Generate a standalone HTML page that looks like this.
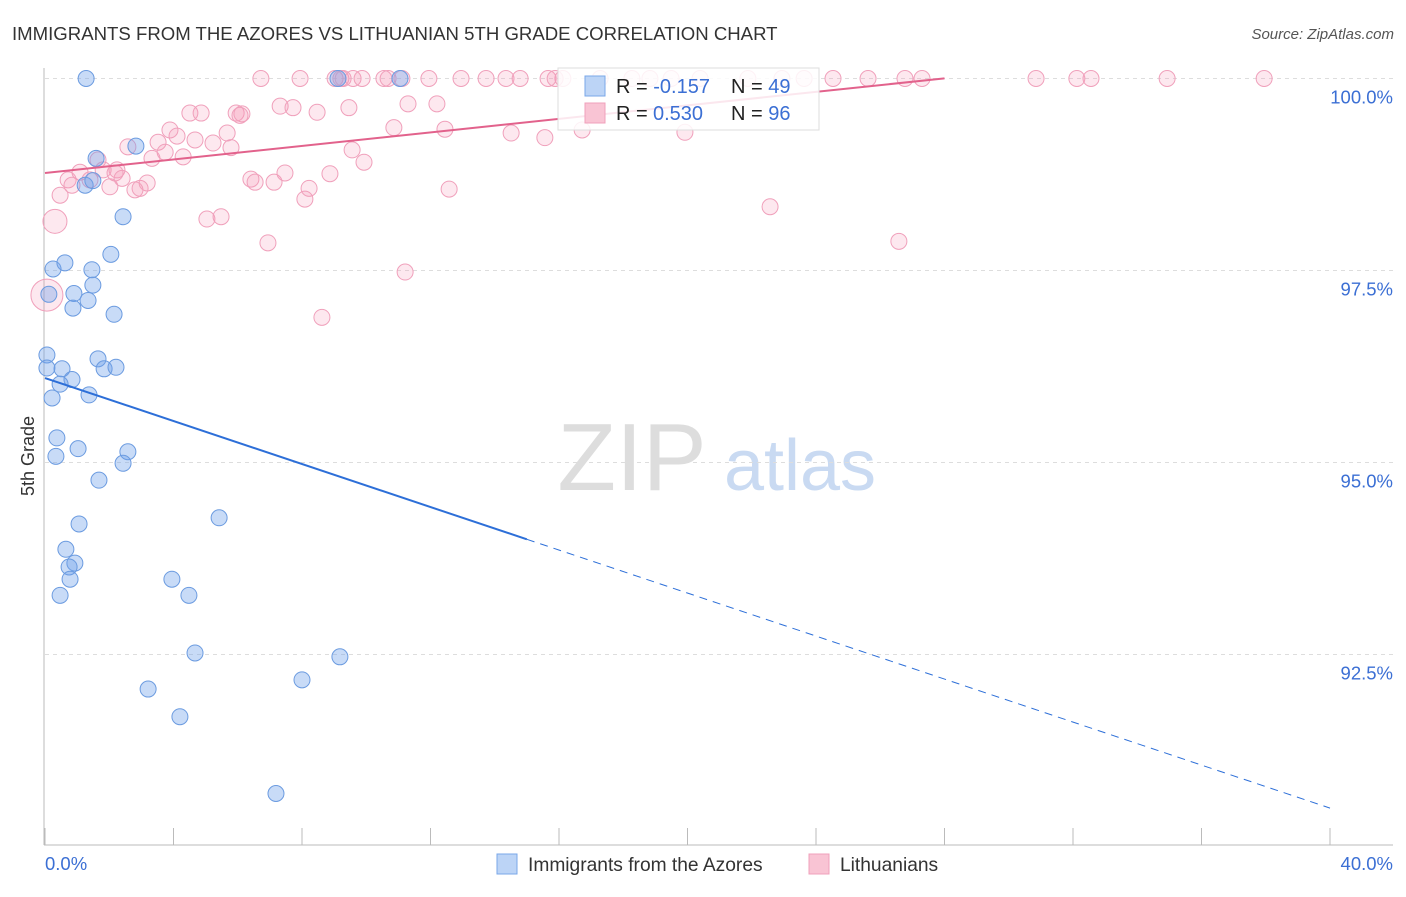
<!DOCTYPE html>
<html><head><meta charset="utf-8"><style>
body{margin:0;background:#fff;font-family:"Liberation Sans",sans-serif;}
svg text{font-family:"Liberation Sans",sans-serif;}
</style></head><body>
<svg id="chart" width="1406" height="892" xmlns="http://www.w3.org/2000/svg">
<text x="12" y="40" font-size="18.6" fill="#333">IMMIGRANTS FROM THE AZORES VS LITHUANIAN 5TH GRADE CORRELATION CHART</text>
<text x="1394" y="39" font-size="15" fill="#555" font-style="italic" text-anchor="end">Source: ZipAtlas.com</text>
<g>
<text x="632" y="490" font-size="96" fill="#ddd" font-family="Liberation Serif" text-anchor="middle">ZIP</text>
<text x="800" y="490" font-size="72" fill="#c9daf2" text-anchor="middle">atlas</text>
</g>
<g id="grid"></g>
<g id="axes"></g>
<g id="marks"></g>
<text x="34" y="456" font-size="18" fill="#333" transform="rotate(-90 34 456)" text-anchor="middle">5th Grade</text>
<text x="45" y="870" font-size="18.5" fill="#3b6fd4">0.0%</text>
<text x="1393" y="870" font-size="18.5" fill="#3b6fd4" text-anchor="end">40.0%</text>
<g>
<rect x="558" y="68" width="261" height="62" fill="#fff" fill-opacity="0.85" stroke="#ddd"/>
<rect x="585" y="76" width="20" height="20" fill="#bcd4f6" stroke="#7aa7e8"/>
<rect x="585" y="103" width="20" height="20" fill="#f9c4d4" stroke="#f0a0bb"/>
<text x="616" y="93" font-size="20" fill="#222">R = <tspan fill="#3b6fd4">-0.157</tspan><tspan x="731">N = </tspan><tspan fill="#3b6fd4">49</tspan></text>
<text x="616" y="120" font-size="20" fill="#222">R = <tspan x="653" fill="#3b6fd4">0.530</tspan><tspan x="731">N = </tspan><tspan fill="#3b6fd4">96</tspan></text>
</g>
<g>
<rect x="497" y="854" width="20" height="20" fill="#bcd4f6" stroke="#7aa7e8"/>
<text x="528" y="871" font-size="19.2" fill="#333">Immigrants from the Azores</text>
<rect x="809" y="854" width="20" height="20" fill="#f9c4d4" stroke="#f0a0bb"/>
<text x="840" y="871" font-size="19.2" fill="#333">Lithuanians</text>
</g>
</svg>
<script>
const yTicks=[100,97.5,95,92.5];
const yTickLabels=["100.0%","97.5%","95.0%","92.5%"];
const xTicks=[0,4,8,12,16,20,24,28,32,36,40];
const blueX=[1.28,9.12,11.05,1.59,2.83,1.25,1.49,2.43,2.05,0.25,0.62,1.46,0.12,0.90,1.34,0.87,1.49,2.15,0.06,0.06,0.53,1.65,1.84,2.21,0.84,0.47,1.37,0.22,0.37,1.03,2.58,0.34,2.43,1.68,1.06,5.42,0.65,0.93,0.75,0.78,0.47,3.95,4.48,4.67,9.18,3.21,8.00,4.20,7.19];
const blueY=[100,100,100,98.96,99.12,98.61,98.67,98.20,97.71,97.52,97.60,97.51,97.19,97.20,97.11,97.01,97.31,96.93,96.40,96.23,96.22,96.35,96.22,96.24,96.08,96.02,95.88,95.84,95.32,95.18,95.14,95.08,94.99,94.77,94.20,94.28,93.87,93.69,93.64,93.48,93.27,93.48,93.27,92.52,92.47,92.05,92.17,91.69,90.69];
const pinkX=[6.72,7.94,9.03,9.21,9.28,9.59,9.87,10.55,10.68,11.11,11.95,12.95,13.73,14.35,14.79,15.66,15.88,16.12,17.28,18.27,18.83,19.49,20.39,21.88,22.94,23.63,24.53,25.62,26.77,27.30,30.85,32.12,32.56,34.93,37.95,
0.31,0.06,0.47,0.72,0.84,1.09,1.40,1.65,1.81,2.02,2.24,2.40,2.58,2.80,2.96,3.18,3.33,3.52,3.74,3.89,4.11,4.30,4.51,4.67,4.86,5.04,5.23,5.48,5.67,5.79,5.95,6.13,6.41,6.54,6.94,7.13,7.32,7.47,7.72,8.09,8.22,8.47,8.62,8.87,9.46,9.56,9.93,10.86,11.21,11.30,12.20,12.45,12.58,14.51,15.56,16.72,19.92,22.57,26.58,2.18,6.07];
const pinkY=[100,100,100,100,100,100,100,100,100,100,100,100,100,100,100,100,100,100,100,100,100,100,100,100,100,100,100,100,100,100,100,100,100,100,100,
98.14,97.18,98.48,98.68,98.61,98.78,98.68,98.94,98.81,98.59,98.81,98.70,99.11,98.55,98.57,98.64,98.96,99.17,99.04,99.33,99.25,98.98,99.55,99.20,99.55,98.17,99.16,98.20,99.29,99.10,99.55,99.54,98.69,98.65,97.86,98.65,99.64,98.77,99.62,98.43,98.57,99.56,96.89,98.76,99.62,99.07,98.91,99.36,97.48,99.67,99.67,99.34,98.56,99.29,99.23,99.33,99.30,98.33,97.88,98.77,99.52];
const pinkSize=[];pinkSize[35]=12;pinkSize[36]=16;
const blueTrend=[96.10,-0.14];
const pinkTrend=[98.77,0.044];
const NS="http://www.w3.org/2000/svg";
const sx=v=>45+v*32.125, sy=v=>78.5+(100-v)*76.8;
function mk(t,a,p){const e=document.createElementNS(NS,t);for(const k in a)e.setAttribute(k,a[k]);document.getElementById(p).appendChild(e);return e;}
yTicks.forEach((t,i)=>{
 const l=mk('line',{x1:45,x2:1393,y1:sy(t),y2:sy(t),stroke:'#ddd','stroke-dasharray':'4 4'},'grid');
 
 
 const tx=mk('text',{x:1393,y:sy(t)+25,'font-size':18.5,fill:'#3b6fd4','text-anchor':'end'},'grid');
 tx.textContent=yTickLabels[i];
 
 
});
const ya=mk('line',{x1:44,x2:44,y1:68,y2:845,stroke:'#bbb'},'axes');


const xa=mk('line',{x1:44,x2:1393,y1:845,y2:845,stroke:'#bbb'},'axes');


xTicks.forEach(t=>{const l=mk('line',{x1:sx(t),x2:sx(t),y1:828,y2:845,stroke:'#bbb'},'axes');
 
 });
pinkX.forEach((x,i)=>{const c=mk('circle',{cx:sx(x),cy:sy(pinkY[i]),r:pinkSize[i]||8,fill:'rgba(244,150,180,0.22)',stroke:'#f0a0bb','stroke-width':1},'marks');
 
 });
blueX.forEach((x,i)=>{const c=mk('circle',{cx:sx(x),cy:sy(blueY[i]),r:8,fill:'rgba(110,160,235,0.38)',stroke:'#6b9be0','stroke-width':1},'marks');
 
 });
const bt=x=>blueTrend[0]+blueTrend[1]*x, pt=x=>pinkTrend[0]+pinkTrend[1]*x;
const b1=mk('line',{x1:sx(0),y1:sy(bt(0)),x2:sx(15),y2:sy(bt(15)),stroke:'#2d6fd8','stroke-width':2},'marks');


const b2=mk('line',{x1:sx(15),y1:sy(bt(15)),x2:sx(40),y2:sy(bt(40)),stroke:'#2d6fd8','stroke-width':1,'stroke-dasharray':'8 6'},'marks');


const p1=mk('line',{x1:sx(0),y1:sy(pt(0)),x2:sx(28),y2:sy(pt(28)),stroke:'#e2628c','stroke-width':2},'marks');


</script>
</body></html>
